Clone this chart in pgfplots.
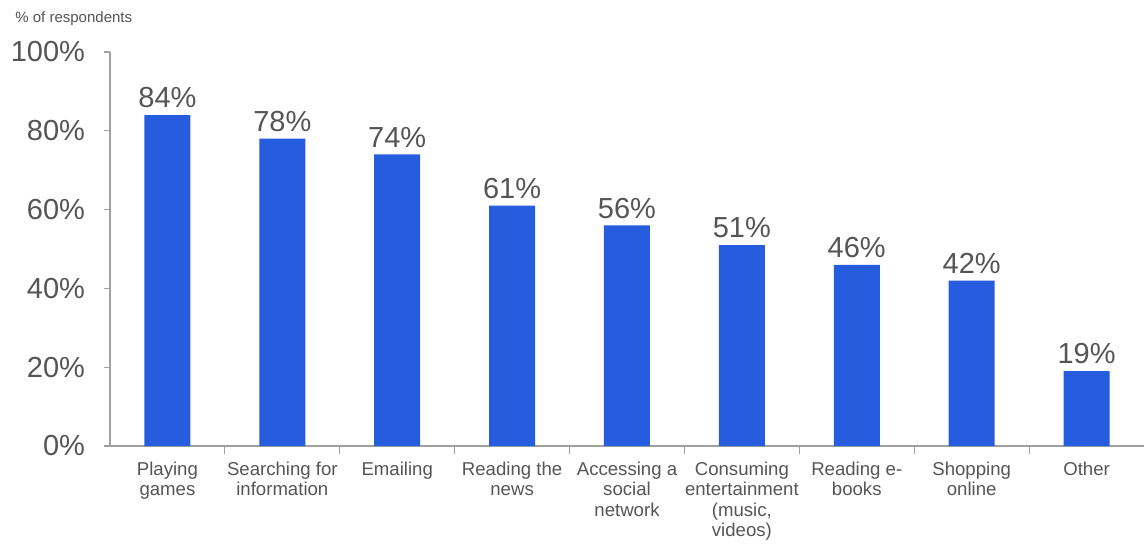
\documentclass[border=0pt]{standalone}
\usepackage{pgfplots}
\pgfplotsset{compat=1.18}
\usepackage{fontspec}
\setmainfont{Liberation Sans}
\definecolor{barblue}{RGB}{38,92,222}
\definecolor{txtgray}{RGB}{85,85,85}
\definecolor{axgray}{RGB}{160,160,160}

\begin{document}
\begin{tikzpicture}
\begin{axis}[
    name=ax,
    scale only axis,
    width=517pt, height=197pt,
    xmin=-0.5, xmax=8.5,
    ymin=0, ymax=100,
    axis lines*=left,
    axis line style={axgray, line width=0.6pt},
    ybar, bar width=23pt,
    xtick=data,
    xticklabels={{Playing\\games}, {Searching for\\information}, {Emailing},
        {Reading the\\news}, {Accessing a\\social\\network},
        {Consuming\\entertainment\\(music,\\videos)}, {Reading e-\\books},
        {Shopping\\online}, {Other}},
    minor xtick={0.5,1.5,...,7.5},
    major x tick style={draw=none},
    minor tick length=4pt,
    ytick={0,20,...,100},
    major tick length=3pt,
    tick style={axgray, line width=0.6pt},
    tick align=outside,
    tick pos=left,
    /pgf/number format/assume math mode=true,
    yticklabel={\pgfmathprintnumber{\tick}\%},
    yticklabel style={font=\fontsize{14.5}{16}\selectfont, text=txtgray, xshift=-6pt},
    xticklabel style={font=\fontsize{9.3}{10.2}\selectfont, text=txtgray, align=center, yshift=-1.5pt},
    nodes near coords={\pgfmathprintnumber{\pgfplotspointmeta}\%},
    nodes near coords style={font=\fontsize{14.5}{16}\selectfont, text=txtgray},
]
\addplot[fill=barblue, draw=none] coordinates {
    (0,84) (1,78) (2,74) (3,61) (4,56) (5,51) (6,46) (7,42) (8,19)};
\end{axis}
\node[anchor=west, font=\fontsize{7.5}{9}\selectfont, text=txtgray, inner sep=0pt]
    at ([xshift=-47.5pt, yshift=16.5pt]ax.north west) {\% of respondents};
\path ([xshift=-55pt, yshift=-46.5pt]ax.south west) rectangle ([xshift=518pt, yshift=223pt]ax.south west);
\end{tikzpicture}
\end{document}
